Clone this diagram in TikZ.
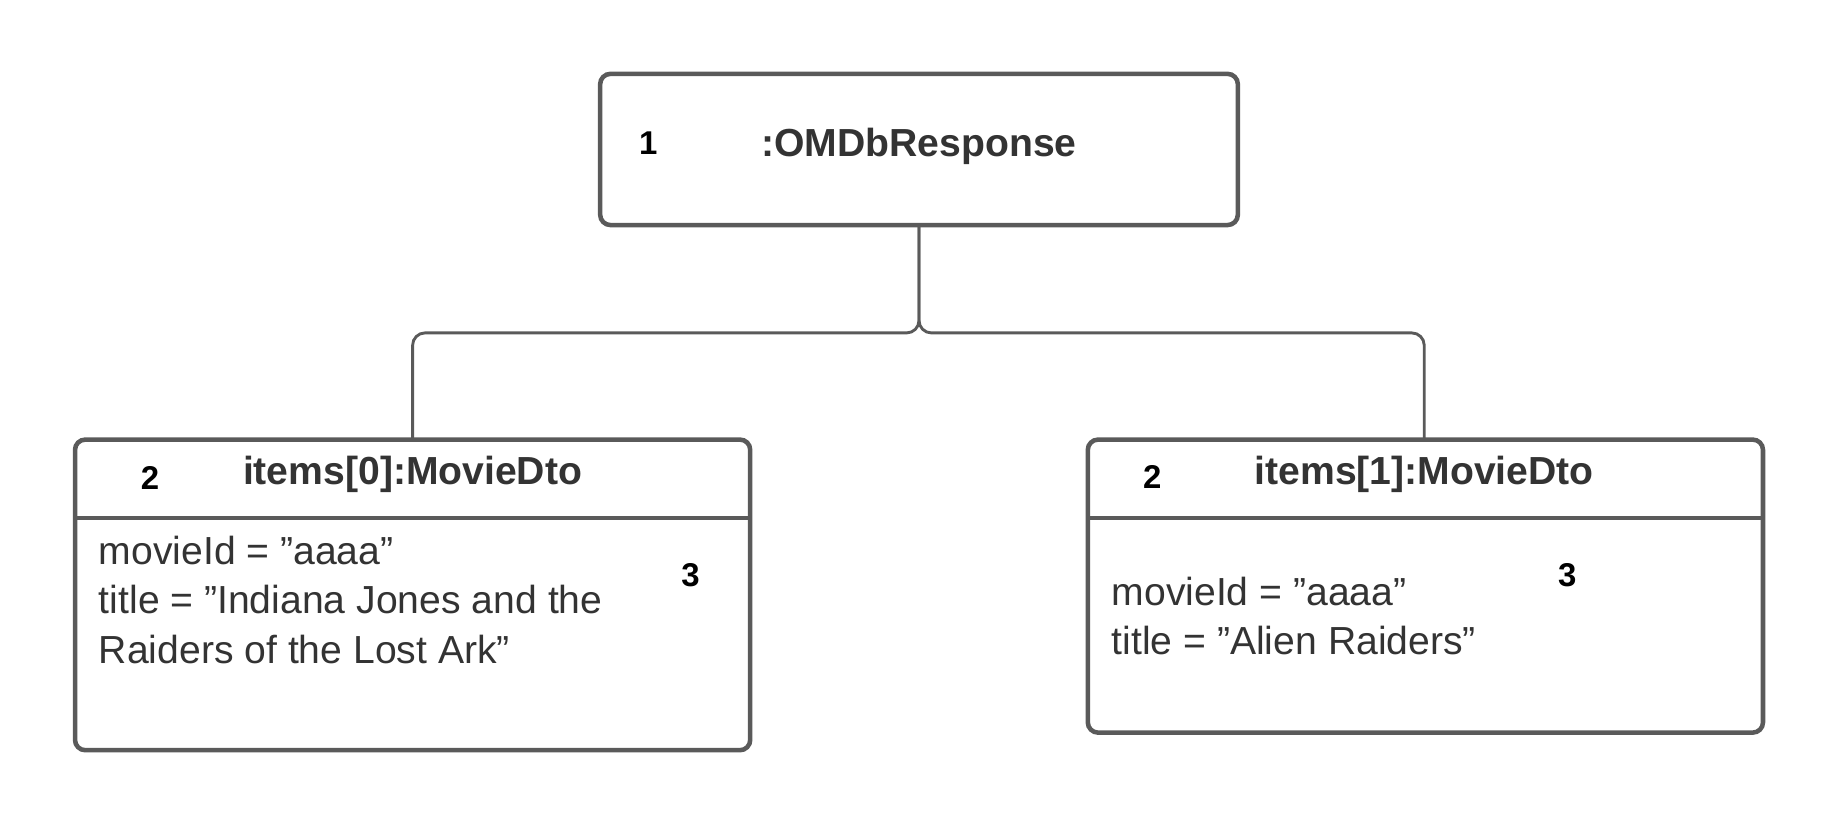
\documentclass[tikz,border=0pt]{standalone}
\usepackage{fontspec}
\setmainfont{Liberation Sans}
\usetikzlibrary{positioning}
\definecolor{linegray}{HTML}{5A5A5A}
\definecolor{textgray}{HTML}{333333}
\tikzset{
  objbox/.style={draw=linegray, line width=2.2pt, rounded corners=5pt},
  conn/.style={draw=linegray, line width=1.4pt, rounded corners=6pt},
  heading/.style={font=\fontsize{19}{22}\selectfont\bfseries, text=textgray},
  marker/.style={font=\fontsize{16}{19}\selectfont\bfseries, text=black},
  attrs/.style={font=\fontsize{19}{24}\selectfont, text=textgray, align=left, anchor=north west}
}
\begin{document}
\begin{tikzpicture}[x=0.02cm, y=-0.02cm]
  \useasboundingbox (0,0) rectangle (1568,704);
  % object boxes
  \draw[objbox] (512,63) rectangle (1056,192);
  \draw[objbox] (64,375) rectangle (640,640);
  \draw[linegray, line width=2.2pt] (64,442) -- (640,442);
  \draw[objbox] (928,375) rectangle (1504,625);
  \draw[linegray, line width=2.2pt] (928,442) -- (1504,442);
  % anchor points for the links
  \coordinate (rootbot) at (784,192);
  \coordinate (lefttop) at (352,375);
  \coordinate (righttop) at (1215,375);
  % links
  \draw[conn] (rootbot) |- (352,284) -- (lefttop);
  \draw[conn] (rootbot) |- (1215,284) -- (righttop);
  % headings
  \node[marker] (m1) at (553,122) {1};
  \node[heading] (root) at (784,125) {:OMDbResponse};
  \node[marker] (m2l) at (128,408) {2};
  \node[heading] (leftname) at (352,405) {items[0]:MovieDto};
  \node[marker] (m2r) at (983,407) {2};
  \node[heading] (rightname) at (1215,405) {items[1]:MovieDto};
  % attributes
  \node[attrs, inner sep=0pt] (leftattr) at (84,457) {movieId = "aaaa"\\title = "Indiana Jones and the\\Raiders of the Lost Ark"};
  \node[marker] (m3l) at (589,491) {3};
  \node[attrs, inner sep=0pt] (rightattr) at (948,492) {movieId = "aaaa"\\title = "Alien Raiders"};
  \node[marker] (m3r) at (1337,491) {3};
\end{tikzpicture}
\end{document}
